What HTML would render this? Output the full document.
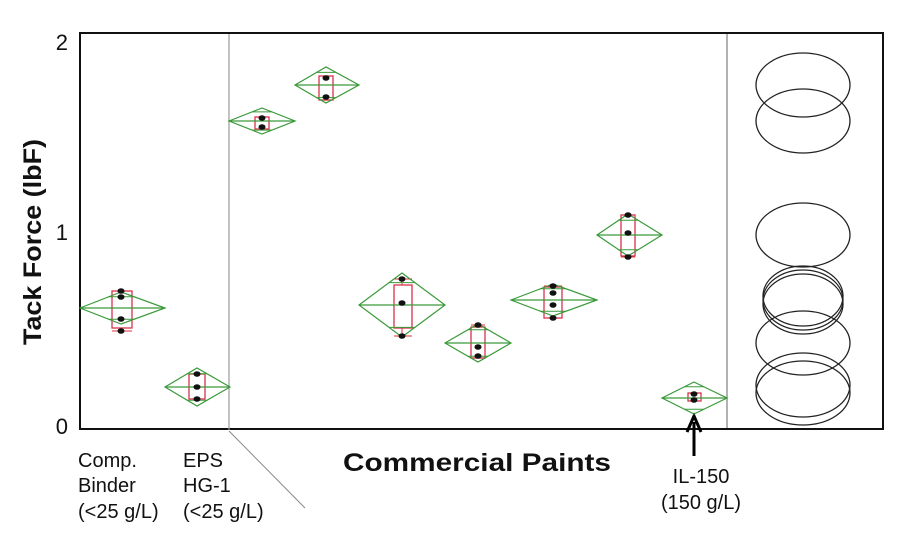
<!DOCTYPE html>
<html><head><meta charset="utf-8"><style>
html,body{margin:0;padding:0;background:#fff;}
svg{display:block;}
text{font-family:"Liberation Sans",sans-serif;fill:#111;}
</style></head><body>
<svg id="s" width="900" height="550" xmlns="http://www.w3.org/2000/svg">
<rect x="80" y="33" width="803" height="396" fill="none" stroke="#111" stroke-width="2"/>
<line x1="229" y1="34" x2="229" y2="430" stroke="#999" stroke-width="1.2"/>
<line x1="727" y1="34" x2="727" y2="428" stroke="#999" stroke-width="1.5"/>
<line x1="229" y1="431" x2="305" y2="508" stroke="#888" stroke-width="1"/>
<text x="68" y="50" font-size="22" text-anchor="end">2</text>
<text x="68" y="240" font-size="22" text-anchor="end">1</text>
<text x="68" y="434" font-size="22" text-anchor="end">0</text>
<text transform="translate(41,242) rotate(-90)" font-size="25" font-weight="bold" text-anchor="middle" textLength="206" lengthAdjust="spacingAndGlyphs">Tack Force (lbF)</text>
<text x="477" y="471" font-size="25" font-weight="bold" text-anchor="middle" textLength="268" lengthAdjust="spacingAndGlyphs">Commercial Paints</text>
<g font-size="20">
<text x="78" y="467">Comp.</text><text x="78" y="492">Binder</text><text x="78" y="518">(&lt;25 g/L)</text>
<text x="183" y="467">EPS</text><text x="183" y="492">HG-1</text><text x="183" y="518">(&lt;25 g/L)</text>
<text x="701" y="483" text-anchor="middle">IL-150</text><text x="701" y="509" text-anchor="middle">(150 g/L)</text>
</g>
<line x1="694" y1="456" x2="694" y2="422" stroke="#000" stroke-width="3"/>
<path d="M687 432 L694 416 L701 432" fill="none" stroke="#000" stroke-width="3"/>
<g fill="none" stroke="#222" stroke-width="1.3">
<ellipse cx="803" cy="85" rx="47" ry="32"/>
<ellipse cx="803" cy="121" rx="47" ry="32"/>
<ellipse cx="803" cy="235" rx="47" ry="32"/>
<ellipse cx="803" cy="296" rx="40" ry="30"/>
<ellipse cx="803" cy="300" rx="40" ry="30"/>
<ellipse cx="803" cy="304" rx="40" ry="30"/>
<ellipse cx="803" cy="343" rx="47" ry="32"/>
<ellipse cx="803" cy="385" rx="47" ry="32"/>
<ellipse cx="803" cy="393" rx="47" ry="32"/>
</g>
<g id="g"></g>
</svg>
<script>
var data=[
[121,80,165,308,16,112,132,291,328,[291,297,319,331]],
[197,165,230,387,19,189,205,374,399,[374,387,399]],
[262,229,295,121,13,255,269,117,129,[118,127]],
[326,295,359,85,18,319,333,76,100,[78,97]],
[402,359,445,305,32,394,412,285,328,[279,303,336]],
[478,445,511,343,19,471,485,327,358,[325,347,356]],
[553,511,597,300,16,544,562,287,318,[286,293,305,318]],
[628,597,662,235,21,621,635,215,256,[215,233,257]],
[694,662,727,398,16,688,701,393,401,[394,400]]];
var h='';
data.forEach(function(d){
var cx=d[0],l=d[1],r=d[2],cy=d[3],hh=d[4];
h+='<line x1="'+d[5]+'" y1="'+d[9][0]+'" x2="'+d[6]+'" y2="'+d[9][0]+'" stroke="#d33" stroke-width="1"/>';
h+='<line x1="'+d[5]+'" y1="'+d[9][d[9].length-1]+'" x2="'+d[6]+'" y2="'+d[9][d[9].length-1]+'" stroke="#d33" stroke-width="1"/>';
h+='<line x1="'+cx+'" y1="'+d[9][0]+'" x2="'+cx+'" y2="'+d[9][d[9].length-1]+'" stroke="#d33" stroke-width="1"/>';
h+='<rect x="'+d[5]+'" y="'+d[7]+'" width="'+(d[6]-d[5])+'" height="'+(d[8]-d[7])+'" fill="#fff" stroke="#d8334a" stroke-width="1.3"/>';
h+='<polygon points="'+l+','+cy+' '+cx+','+(cy-hh)+' '+r+','+cy+' '+cx+','+(cy+hh)+'" fill="none" stroke="#3a9a3a" stroke-width="1.2"/>';
h+='<line x1="'+l+'" y1="'+cy+'" x2="'+r+'" y2="'+cy+'" stroke="#3a9a3a" stroke-width="1.2"/>';
var f=0.7,dy=hh*f,w=(r-l)/2*(1-f);
h+='<line x1="'+(cx-w)+'" y1="'+(cy-dy)+'" x2="'+(cx+w)+'" y2="'+(cy-dy)+'" stroke="#3a9a3a" stroke-width="1"/>';
h+='<line x1="'+(cx-w)+'" y1="'+(cy+dy)+'" x2="'+(cx+w)+'" y2="'+(cy+dy)+'" stroke="#3a9a3a" stroke-width="1"/>';
d[9].forEach(function(y){h+='<ellipse cx="'+cx+'" cy="'+y+'" rx="3.5" ry="2.8" fill="#111"/>';});
});
document.getElementById('g').innerHTML=h;
</script>
</body></html>
